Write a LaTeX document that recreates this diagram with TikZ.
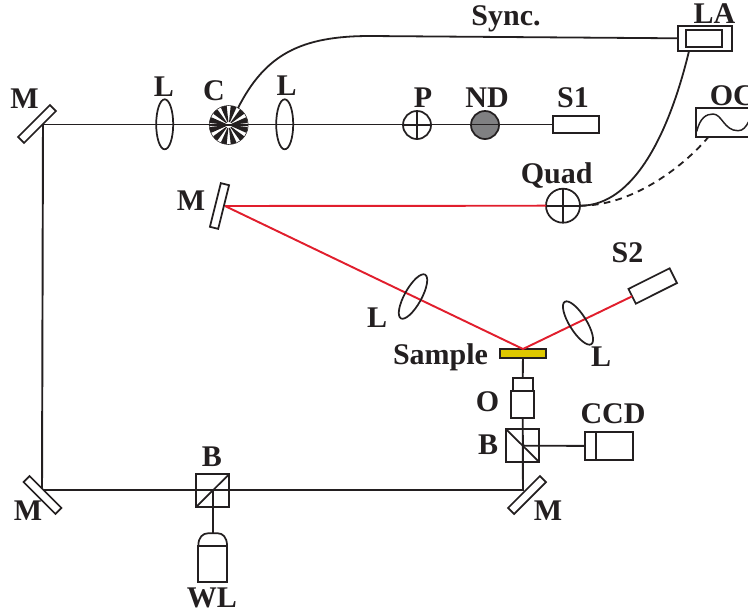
\documentclass[tikz,border=0pt]{standalone}
\usepackage{fontspec}
\setmainfont{Liberation Serif}
\usetikzlibrary{shapes.geometric}
\definecolor{ink}{RGB}{35,31,32}
\definecolor{beamred}{RGB}{225,30,45}
\definecolor{samplegold}{RGB}{222,200,0}
\definecolor{ndgray}{RGB}{128,128,130}
\tikzset{
  pxbox/.style 2 args={minimum width=#1*0.75pt,minimum height=#2*0.75pt,inner sep=0pt,outer sep=0pt},
  part/.style={draw=ink,line width=1.3pt},
  partbox/.style 2 args={part,rectangle,pxbox={#1}{#2},fill=white},
  lensnode/.style={part,ellipse,pxbox={17}{50}},
  mirrornode/.style={partbox={45}{8.5}},
  roundnode/.style={part,circle,pxbox={#1}{#1}},
  beam/.style={ink,line width=1.45pt},
  redbeam/.style={beamred,line width=1.45pt},
  wire/.style={ink,line width=1.35pt},
  lab/.style={text=ink,font=\fontsize{22.5}{24}\selectfont\bfseries,inner sep=0pt,anchor=base}
}
\begin{document}
\begin{tikzpicture}[x=0.75pt,y=-0.75pt]
\clip (0,0) rectangle (748,615);
% beam corners
\coordinate (hitTL) at (43,124.5);
\coordinate (hitBL) at (42,490);
\coordinate (hitBR) at (523,490);
\coordinate (hitM) at (225,206);
\coordinate (wlTop) at (212.7,533.3);
\coordinate (laTap) at (689,51);
\coordinate (oscTap) at (708,137.5);
\coordinate (chopTap) at (238,108);
% components placed first so that beams can be named
\node[roundnode=28] (P) at (417,125) {};
\node[roundnode=28,fill=ndgray] (ND) at (485,125) {};
\node[partbox={46}{17}] (S1) at (575.7,124.5) {};
\node[roundnode=34] (Quad) at (563,205.7) {};
\node[partbox={54}{24.7}] (LA) at (705,38.3) {};
\node[partbox={36.3}{17}] at (703.8,38.5) (LAin) {};
\node[partbox={46}{16.5},rotate=26.6] (S2) at (652.7,286) {};
\node[partbox={46}{9},fill=samplegold] (Sample) at (523,353.5) {};
\node[partbox={23.3}{26.7}] (Obj) at (522.7,404.3) {};
\node[partbox={20}{13.3}] (ObjTip) at (522.7,384.3) {};
\node[part,rectangle,pxbox={33.3}{33}] (BR) at (522.7,445.7) {};
\node[part,rectangle,pxbox={33.3}{33}] (BL) at (212.7,490.5) {};
\node[partbox={47.7}{28.3}] (CCD) at (608.8,445.8) {};
\node[partbox={28.7}{36.6}] (WLbody) at (212.7,564) {};
\node[circle,pxbox={39}{39},fill=white] (Chop) at (228.7,125) {};
% beams
\draw[beam] (hitTL) -- (S1.west);
\draw[beam] (hitTL) -- (hitBL) -- (hitBR) -- (Obj.south);
\draw[beam] (Sample.south) -- (ObjTip.north);
\draw[beam] (BR.center) -- (CCD.west);
\draw[beam] (BL.center) -- (wlTop);
\draw[redbeam] (hitM) -- (Quad.west);
\draw[redbeam] (hitM) -- (Sample.north) -- (S2.west);
% chopper wheel
\draw[ink,line width=0.4pt,fill=white] (Chop.center) circle[radius=19.5];
\foreach \a in {0,30,...,330}{
  \fill[ink,shift={(Chop.center)}]
    (\a+6:3) -- (\a+6:19) -- (\a+10.5:19.3) -- (\a+15:19.4) -- (\a+19.5:19.3) -- (\a+24:19) -- (\a+24:3) -- cycle;
}
\draw[beam] (Chop.west) -- (Chop.east);
% lenses and mirrors
\node[lensnode] (L1) at (164.7,124.3) {};
\node[lensnode] (L2) at (284.7,124.3) {};
\node[lensnode,rotate=-29] (L3) at (413,296.5) {};
\node[lensnode,rotate=32] (L4) at (578,323) {};
\node[mirrornode,rotate=45] (MTL) at (37,124) {};
\node[mirrornode,rotate=-45] (MBL) at (42.5,495) {};
\node[mirrornode,rotate=45] (MBR) at (527,495) {};
\node[mirrornode,rotate=76] (MR) at (219.5,206) {};
% part details
\draw[part] (P.north) -- (P.south) (P.west) -- (P.east);
\draw[part] (Quad.north) -- (Quad.south) (Quad.west) -- (Quad.east);
\draw[part] (BR.north west) -- (BR.south east);
\draw[part] (BL.south west) -- (BL.north east);
\draw[part] (596,431.7) -- (596,460);
\draw[part] (WLbody.north west)
  .. controls (198.3,537) and (203,533.3) .. (208,533.3) -- (218,533.3)
  .. controls (222.5,533.3) and (227,537) .. (WLbody.north east);
% oscilloscope
\node[partbox={64}{29}] (OC) at (728,122.5) {};
\draw[ink,line width=1.1pt] (696.7,131.5) .. controls (700,118) and (706,114) .. (713,114)
  .. controls (722,114) and (724,130.7) .. (738,130.7)
  .. controls (743,130.7) and (746,127) .. (749,121);
% signal lines
\draw[wire] (chopTap) .. controls (265,55) and (300,36) .. (370,36) -- (LA.west);
\draw[wire] (laTap) .. controls (670,130) and (635,206) .. (Quad.east);
\draw[wire,dash pattern=on 5pt off 4pt] (Quad.east) .. controls (630,206) and (680,170) .. (oscTap);
% labels
\node[lab] (tSync) at (506,25) {Sync.};
\node[lab] (tLA) at (714.5,23) {LA};
\node[lab] (tM1) at (24.5,108) {M};
\node[lab] (tL1) at (164,96) {L};
\node[lab] (tC) at (214,100) {C};
\node[lab] (tL2) at (286.7,95.5) {L};
\node[lab] (tP) at (423,107) {P};
\node[lab] (tND) at (487,107) {ND};
\node[lab] (tS1) at (573,107) {S1};
\node[lab,anchor=base west] (tOC) at (709.5,105) {OC};
\node[lab] (tQuad) at (556.7,183) {Quad};
\node[lab] (tM2) at (191,210) {M};
\node[lab] (tS2) at (627.5,262) {S2};
\node[lab] (tL3) at (377,327) {L};
\node[lab] (tSample) at (440.5,364) {Sample};
\node[lab] (tL4) at (601,366) {L};
\node[lab] (tO) at (487.5,411.7) {O};
\node[lab] (tB1) at (488,454) {B};
\node[lab] (tCCD) at (613,423) {CCD};
\node[lab] (tM3) at (548,520.7) {M};
\node[lab] (tB2) at (212,466.7) {B};
\node[lab] (tM4) at (28,520) {M};
\node[lab] (tWL) at (212,607) {WL};
\end{tikzpicture}
\end{document}
